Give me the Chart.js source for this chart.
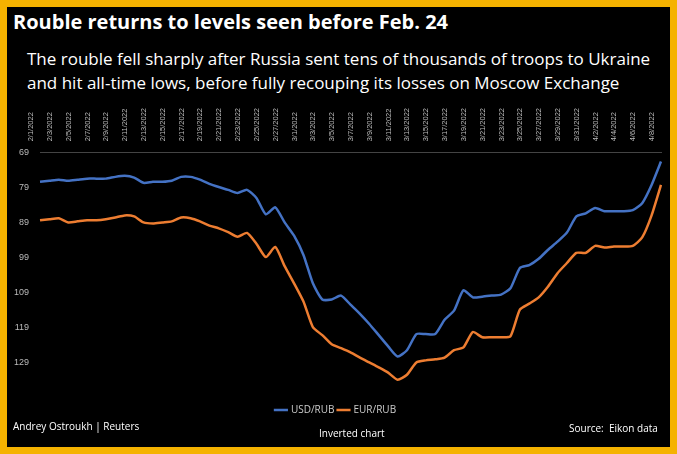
<!DOCTYPE html>
<html>
<head>
<meta charset="utf-8">
<script src="https://cdn.jsdelivr.net/npm/chart.js@4"></script>
<style>
  body { margin: 0; background: #fff; }
  #frame { position: absolute; left: 0; top: 0; width: 663px; height: 440px; background: #000; border: 7px solid #f5b200; font-family: "Open Sans", sans-serif; color: #fff; overflow: hidden; }
  #title { position: absolute; left: 6px; top: 1px; font-size: 20px; font-weight: bold; }
  #sub { position: absolute; left: 20px; top: 40px; font-size: 17px; line-height: 24px; }
  #wrap { position: absolute; left: 0px; top: 98px; width: 660px; height: 320px; }
  .foot { position: absolute; font-size: 10px; }
</style>
</head>
<body>
<div id="frame">
  <div id="title">Rouble returns to levels seen before Feb. 24</div>
  <div id="sub">The rouble fell sharply after Russia sent tens of thousands of troops to Ukraine<br>and hit all-time lows, before fully recouping its losses on Moscow Exchange</div>
  <div id="wrap"><canvas id="chart"></canvas></div>
  <div class="foot" style="left:6px; top:412px;">Andrey Ostroukh | Reuters</div>
  <div class="foot" style="left:312px; top:419px;">Inverted chart</div>
  <div class="foot" style="left:562px; top:414px;">Source:&nbsp; Eikon data</div>
</div>
<script>
// Valores (diarios, 2/1/2022 - 4/8/2022)
const usdRub = [77.4, 77.1, 76.8, 77.1, 76.8, 76.5, 76.5, 76.5, 76.0, 75.7, 76.2, 77.7, 77.4, 77.4, 77.1, 76.0, 76.0, 76.8, 78.0, 78.9,
  79.7, 80.6, 79.7, 82.0, 86.7, 84.7, 89.0, 92.8, 98.3, 106.4, 111.0, 111.0, 109.9, 112.5, 115.1, 118.0, 121.2, 124.4, 127.3, 125.5,
  120.9, 120.9, 120.9, 116.8, 114.2, 108.4, 110.4, 110.2, 109.9, 109.6, 107.8, 102.0, 101.2, 99.4, 96.8, 94.5, 91.9, 87.3, 86.4, 84.9,
  85.8, 85.8, 85.8, 85.5, 83.5, 78.3, 71.6];
const eurRub = [88.4, 88.1, 87.8, 89.0, 88.7, 88.4, 88.4, 88.1, 87.6, 87.0, 87.3, 89.0, 89.3, 89.0, 88.7, 87.6, 87.8, 88.7, 89.9, 90.7,
  91.8, 93.1, 92.0, 95.1, 98.9, 96.0, 101.5, 106.4, 111.6, 118.9, 121.2, 123.8, 124.9, 126.1, 127.6, 129.0, 130.4, 131.9, 133.9, 132.5,
  129.0, 128.4, 128.1, 127.6, 125.5, 124.7, 120.3, 121.8, 121.8, 121.8, 121.5, 113.9, 112.2, 110.4, 107.3, 103.5, 100.6, 97.7, 97.7, 95.7,
  96.2, 95.9, 95.9, 95.7, 93.3, 87.0, 78.3];
const yTicks = [69, 79, 89, 99, 109, 119, 129];

// Fechas diarias como etiquetas
const fechas = [];
const inicio = new Date(2022, 1, 1);
for (let i = 0; i < usdRub.length; i++) {
  const d = new Date(inicio.getTime() + i * 86400000);
  fechas.push((d.getMonth() + 1) + '/' + d.getDate() + '/2022');
}

const ctx = document.getElementById('chart').getContext('2d');
new Chart(ctx, {
  type: 'line',
  data: {
    labels: fechas,
    datasets: [
      { label: 'USD/RUB', data: usdRub, borderColor: '#4472c4', backgroundColor: '#4472c4', borderWidth: 2.5, pointRadius: 0, tension: 0.2 },
      { label: 'EUR/RUB', data: eurRub, borderColor: '#ed7d31', backgroundColor: '#ed7d31', borderWidth: 2.5, pointRadius: 0, tension: 0.2 }
    ]
  },
  options: {
    responsive: true,
    maintainAspectRatio: false,
    animation: false,
    layout: { padding: { left: 4, right: 6 } },
    plugins: {
      legend: {
        position: 'bottom',
        labels: { color: '#ccc', font: { size: 10, family: 'Open Sans' }, usePointStyle: true, pointStyle: 'line', boxWidth: 20, padding: 4 }
      },
      tooltip: { enabled: false }
    },
    scales: {
      x: {
        position: 'top',
        grid: { display: false },
        border: { color: '#444' },
        ticks: {
          color: '#bbb', font: { size: 7.5 }, autoSkip: false, maxRotation: 90, minRotation: 90,
          callback: function(v, i) { return i % 2 === 0 ? fechas[i] : ''; }
        }
      },
      y: {
        reverse: true,
        min: 69,
        max: 140,
        grid: { display: false },
        border: { display: false },
        afterBuildTicks: axis => { axis.ticks = yTicks.map(v => ({ value: v })); },
        ticks: { color: '#bbb', font: { size: 9 } }
      }
    }
  }
});
</script>
</body>
</html>
